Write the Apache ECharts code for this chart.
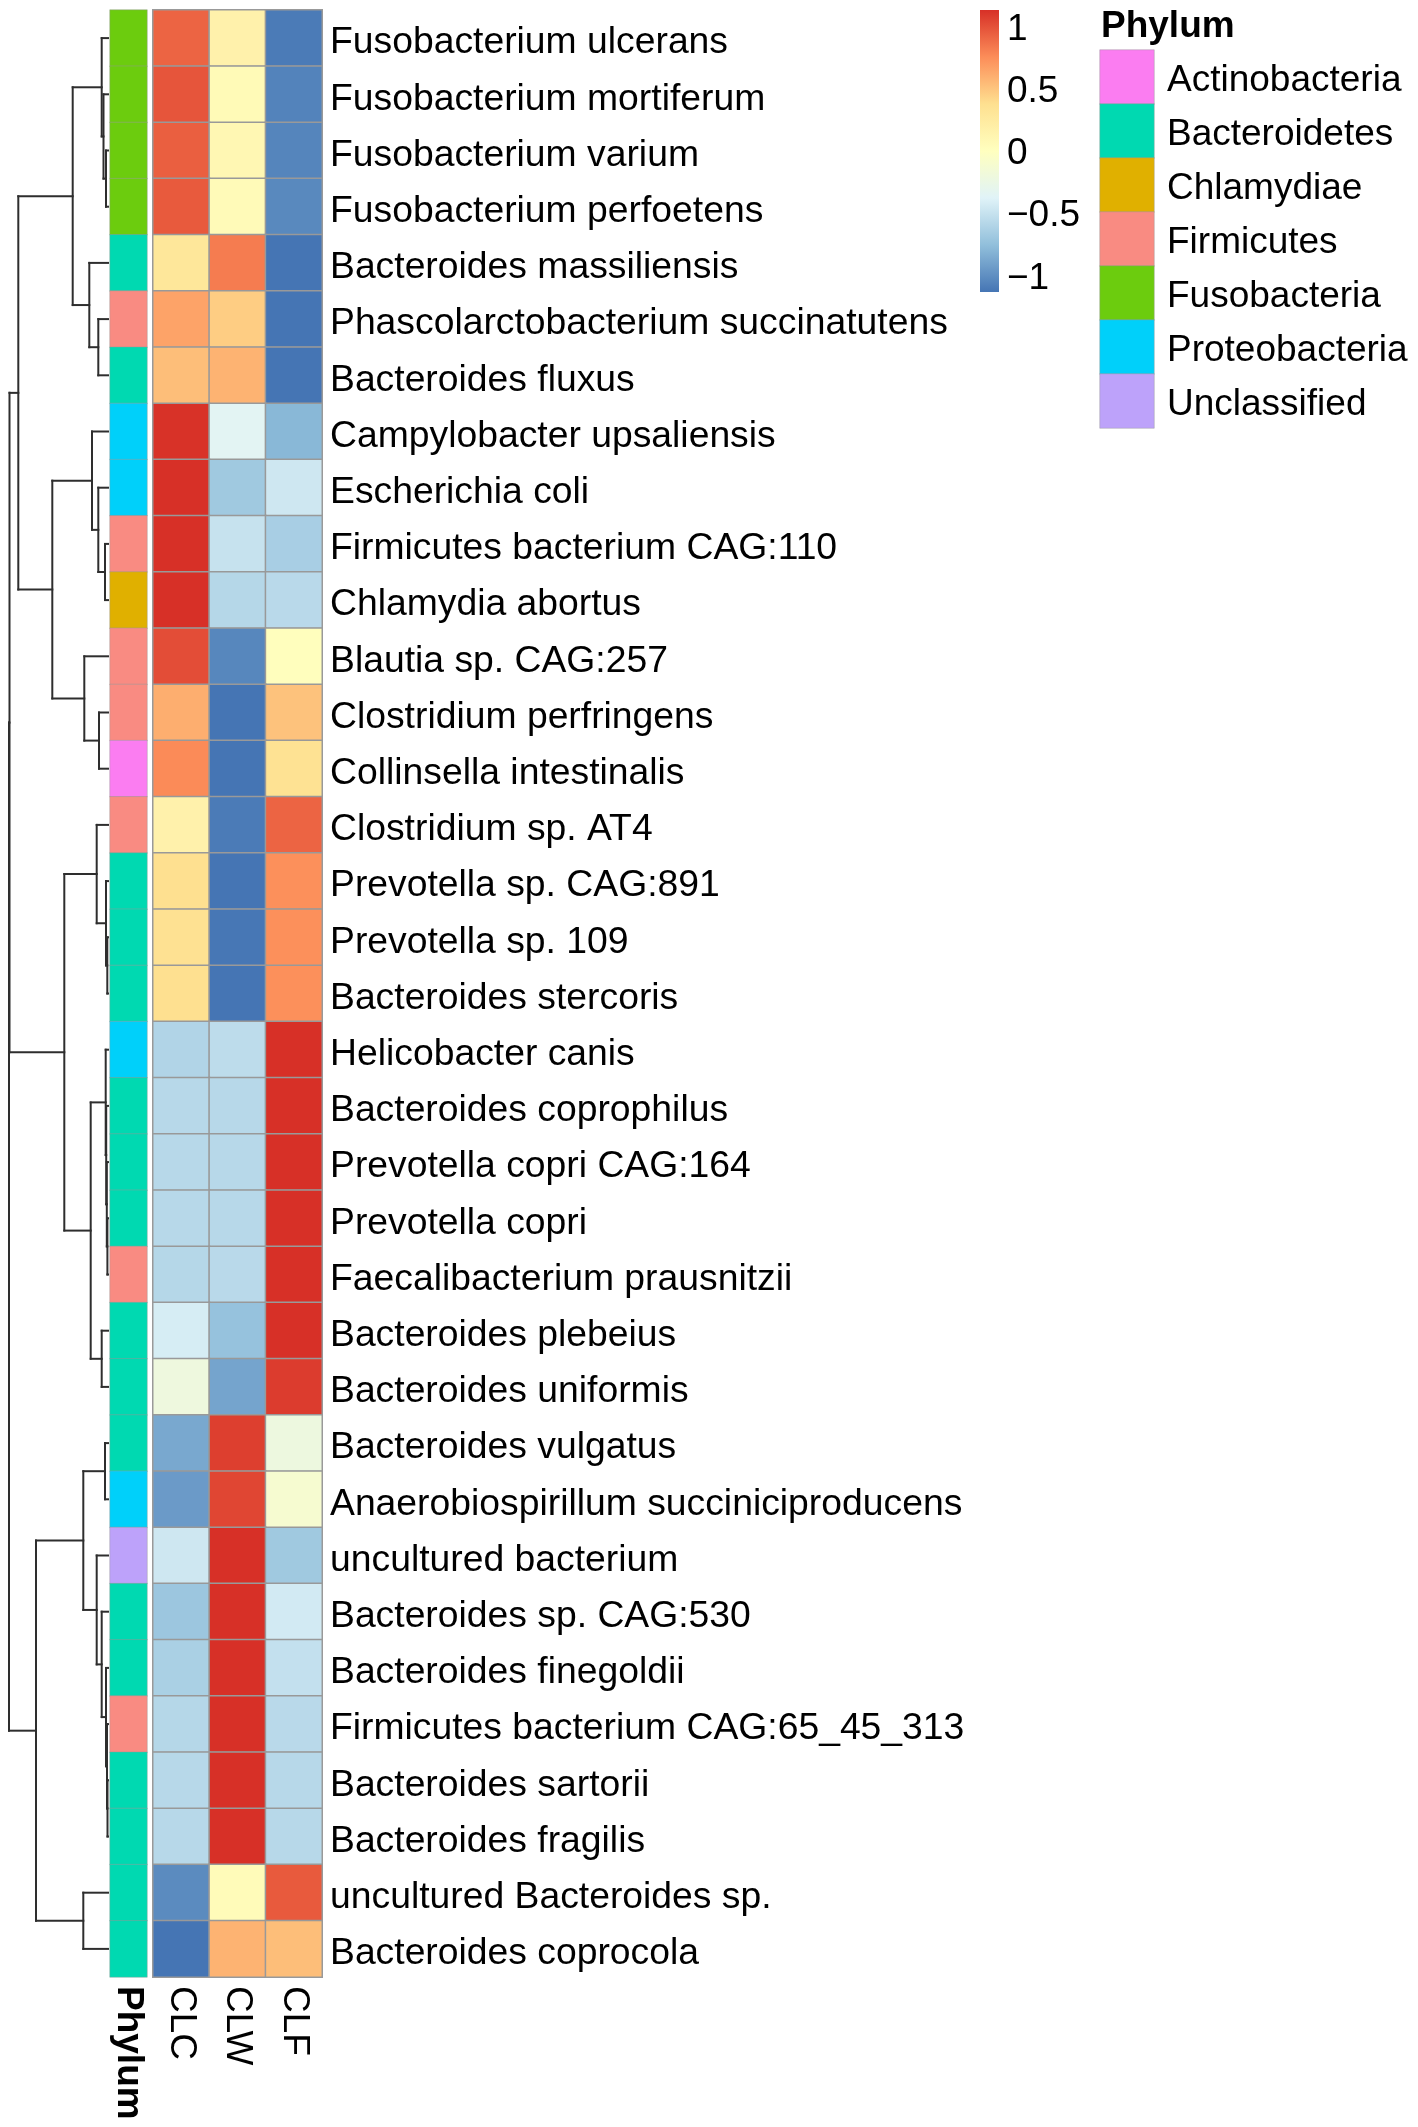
<!DOCTYPE html>
<html>
<head>
<meta charset="utf-8">
<title>Phylum heatmap</title>
<script src="https://cdn.jsdelivr.net/npm/echarts@6/dist/echarts.min.js"></script>
<style>
html, body { margin: 0; padding: 0; background: #fff; }
#chart { width: 1418px; height: 2127px; }
</style>
</head>
<body>
<div id="chart"></div>
<script>
// rows, top to bottom, in dendrogram order
var species = [
    'Fusobacterium ulcerans', 'Fusobacterium mortiferum', 'Fusobacterium varium', 'Fusobacterium perfoetens',
    'Bacteroides massiliensis', 'Phascolarctobacterium succinatutens', 'Bacteroides fluxus',
    'Campylobacter upsaliensis', 'Escherichia coli', 'Firmicutes bacterium CAG:110', 'Chlamydia abortus',
    'Blautia sp. CAG:257', 'Clostridium perfringens', 'Collinsella intestinalis', 'Clostridium sp. AT4',
    'Prevotella sp. CAG:891', 'Prevotella sp. 109', 'Bacteroides stercoris', 'Helicobacter canis',
    'Bacteroides coprophilus', 'Prevotella copri CAG:164', 'Prevotella copri', 'Faecalibacterium prausnitzii',
    'Bacteroides plebeius', 'Bacteroides uniformis', 'Bacteroides vulgatus',
    'Anaerobiospirillum succiniciproducens', 'uncultured bacterium', 'Bacteroides sp. CAG:530',
    'Bacteroides finegoldii', 'Firmicutes bacterium CAG:65_45_313', 'Bacteroides sartorii',
    'Bacteroides fragilis', 'uncultured Bacteroides sp.', 'Bacteroides coprocola'
];
var samples = ['CLC', 'CLW', 'CLF'];

// row-scaled abundance (z-score) per sample
var clc = [0.93, 0.99, 0.95, 0.97, 0.30, 0.66, 0.54, 1.13, 1.14, 1.14, 1.14, 1.02, 0.61, 0.77, 0.17,
    0.38, 0.37, 0.38, -0.60, -0.57, -0.57, -0.57, -0.58, -0.42, -0.20, -0.87, -0.94, -0.46, -0.70,
    -0.63, -0.58, -0.57, -0.57, -1.02, -1.13];
var clw = [0.17, 0.07, 0.10, 0.06, 0.83, 0.47, 0.59, -0.34, -0.68, -0.50, -0.58, -1.04, -1.13, -1.13, -1.10,
    -1.13, -1.12, -1.13, -0.54, -0.57, -0.57, -0.57, -0.56, -0.73, -0.89, 1.08, 1.05, 1.14, 1.14,
    1.14, 1.14, 1.14, 1.14, 0.05, 0.59];
var clf = [-1.10, -1.06, -1.05, -1.03, -1.13, -1.13, -1.13, -0.79, -0.46, -0.64, -0.56, 0.02, 0.52, 0.36, 0.93,
    0.75, 0.75, 0.75, 1.14, 1.14, 1.14, 1.14, 1.14, 1.14, 1.09, -0.21, -0.11, -0.68, -0.44,
    -0.51, -0.56, -0.57, -0.57, 0.97, 0.54];

var phylumNames = ['Actinobacteria', 'Bacteroidetes', 'Chlamydiae', 'Firmicutes', 'Fusobacteria', 'Proteobacteria', 'Unclassified'];
var phylumColors = ['#FB7DF1', '#00D9B1', '#E0B000', '#F98B82', '#6CCC0E', '#00D0FA', '#BDA2FA'];
var rowPhylum = [
    'Fusobacteria', 'Fusobacteria', 'Fusobacteria', 'Fusobacteria', 'Bacteroidetes', 'Firmicutes', 'Bacteroidetes',
    'Proteobacteria', 'Proteobacteria', 'Firmicutes', 'Chlamydiae', 'Firmicutes', 'Firmicutes', 'Actinobacteria',
    'Firmicutes', 'Bacteroidetes', 'Bacteroidetes', 'Bacteroidetes', 'Proteobacteria', 'Bacteroidetes',
    'Bacteroidetes', 'Bacteroidetes', 'Firmicutes', 'Bacteroidetes', 'Bacteroidetes', 'Bacteroidetes',
    'Proteobacteria', 'Unclassified', 'Bacteroidetes', 'Bacteroidetes', 'Firmicutes', 'Bacteroidetes',
    'Bacteroidetes', 'Bacteroidetes', 'Bacteroidetes'
];

var heatColors = ['#4575B4', '#91BFDB', '#E0F3F8', '#FFFFBF', '#FEE090', '#FC8D59', '#D73027'];
var zMin = -1.13, zMax = 1.14;
var colorbarTicks = [-1, -0.5, 0, 0.5, 1];

// row dendrogram, hclust style: [left, right, height]
// negative = row number (1-based), positive = earlier merge (1-based)
var merges = [
    [-3, -4, 2.0], [-2, 1, 4.5], [-1, 2, 6.3], [-6, -7, 9.7], [-5, 4, 18.7], [3, 5, 35.3],
    [-10, -11, 3.0], [-9, 7, 9.7], [-8, 8, 16.0], [-13, -14, 9.0], [-12, 10, 23.7], [9, 11, 55.7],
    [6, 12, 89.7],
    [-17, -18, 0.7], [-16, 14, 2.0], [-15, 15, 11.3], [-22, -23, 0.6], [-21, 17, 1.2], [-20, 18, 1.8],
    [-19, 19, 2.3], [-24, -25, 6.3], [20, 21, 17.3], [16, 22, 43.7],
    [-26, -27, 3.0], [-32, -33, 0.5], [-31, 25, 1.0], [-30, 26, 2.0], [-29, 27, 6.3], [-28, 28, 11.3],
    [24, 29, 24.7], [-34, -35, 24.7], [30, 31, 72.0],
    [13, 23, 98.5], [33, 32, 99.0]
];

var FONT = '"Liberation Sans", Arial, sans-serif';

// build heatmap cells
var heatData = [];
var cols = [clc, clw, clf];
for (var r = 0; r < species.length; r++) {
    for (var c = 0; c < samples.length; c++) {
        heatData.push([c, r, cols[c][r]]);
    }
}
var phylumData = rowPhylum.map(function (p, r) { return [0, r, phylumNames.indexOf(p)]; });
var legendData = phylumNames.map(function (p, i) { return [0, i, i]; });

// dendrogram segments from the merge table
var nodePos = [];
function childPos(id) {
    if (id < 0) return { y: -id - 1, h: 0 };
    return nodePos[id - 1];
}
var dendroSegs = [];
merges.forEach(function (m) {
    var a = childPos(m[0]), b = childPos(m[1]), h = m[2];
    dendroSegs.push([h, a.y, h, b.y]);
    dendroSegs.push([a.h, a.y, h, a.y]);
    dendroSegs.push([b.h, b.y, h, b.y]);
    nodePos.push({ y: (a.y + b.y) / 2, h: h });
});

var hidden = { show: false };
var chart = echarts.init(document.getElementById('chart'), null, { renderer: 'canvas' });

// labels a few px lower than the tick: top-aligned with a short line box
function lowered(px) {
    return { verticalAlign: 'top', lineHeight: px * 2 };
}

var option = {
    backgroundColor: '#fff',
    animation: false,
    textStyle: { fontFamily: FONT },
    title: {
        text: 'Phylum', left: 1101, top: 8, padding: 0,
        textStyle: { fontSize: 37, fontWeight: 'bold', color: '#000', fontFamily: FONT }
    },
    grid: [
        { left: 8, top: 10, width: 100, height: 1967 },     // dendrogram
        { left: 110, top: 10, width: 37, height: 1967 },    // phylum annotation
        { left: 153, top: 10, width: 169, height: 1967 },   // heatmap
        { left: 980, top: 10, width: 19, height: 282 },     // colour bar
        { left: 1100, top: 50, width: 54, height: 378 }     // phylum legend
    ],
    xAxis: [
        { gridIndex: 0, type: 'value', min: 0, max: 100, inverse: true, show: false },
        { gridIndex: 1, type: 'category', data: ['Phylum'], position: 'bottom',
          axisLine: hidden, axisTick: hidden, splitLine: hidden,
          axisLabel: { rotate: -90, margin: 9, fontSize: 37, fontWeight: 'bold', color: '#000', fontFamily: FONT } },
        { gridIndex: 2, type: 'category', data: samples, position: 'bottom',
          axisLine: hidden, axisTick: hidden, splitLine: hidden,
          axisLabel: { rotate: -90, margin: 9, fontSize: 37, color: '#000', fontFamily: FONT, interval: 0 } },
        { gridIndex: 3, type: 'value', min: 0, max: 1, show: false },
        { gridIndex: 4, type: 'category', data: [''], show: false }
    ],
    yAxis: [
        { gridIndex: 0, type: 'value', min: -0.5, max: species.length - 0.5, inverse: true, show: false },
        { gridIndex: 1, type: 'category', data: species, inverse: true, show: false },
        { gridIndex: 2, type: 'category', data: species, inverse: true, position: 'right',
          axisLine: hidden, axisTick: hidden, splitLine: hidden,
          axisLabel: Object.assign({ margin: 8, fontSize: 37.3, color: '#000', fontFamily: FONT, interval: 0 },
                                   lowered(5)) },
        { gridIndex: 3, type: 'value', min: zMin, max: zMax, position: 'right',
          axisLine: hidden, axisTick: hidden, splitLine: hidden,
          axisLabel: Object.assign({
              margin: 8, fontSize: 37, color: '#000', fontFamily: FONT,
              customValues: colorbarTicks,
              formatter: function (v) { return v < 0 ? '\u2212' + Math.abs(v) : String(v); }
          }, lowered(2.5)) },
        { gridIndex: 4, type: 'category', data: phylumNames, inverse: true, position: 'right',
          axisLine: hidden, axisTick: hidden, splitLine: hidden,
          axisLabel: Object.assign({ margin: 13, fontSize: 37, color: '#000', fontFamily: FONT, interval: 0 },
                                   lowered(4)) }
    ],
    visualMap: [
        { type: 'continuous', min: zMin, max: zMax, seriesIndex: 2, dimension: 2,
          inRange: { color: heatColors }, show: false },
        { type: 'piecewise', seriesIndex: [1, 4], dimension: 2, show: false,
          pieces: phylumNames.map(function (p, i) { return { value: i, color: phylumColors[i] }; }) }
    ],
    graphic: [
        { type: 'rect', left: 980, top: 10, shape: { width: 19, height: 282 },
          style: { fill: new echarts.graphic.LinearGradient(0, 1, 0, 0,
              heatColors.map(function (c, i) { return { offset: i / (heatColors.length - 1), color: c }; })) } }
    ],
    series: [
        { type: 'custom', xAxisIndex: 0, yAxisIndex: 0, data: dendroSegs,
          encode: { x: [0, 2], y: [1, 3] },
          renderItem: function (params, api) {
              var p1 = api.coord([api.value(0), api.value(1)]);
              var p2 = api.coord([api.value(2), api.value(3)]);
              return { type: 'line', shape: { x1: p1[0], y1: p1[1], x2: p2[0], y2: p2[1] },
                       style: { stroke: '#2e2e2e', lineWidth: 2, lineCap: 'square' } };
          } },
        { type: 'heatmap', xAxisIndex: 1, yAxisIndex: 1, data: phylumData,
          itemStyle: { borderColor: 'rgba(150,150,150,0.45)', borderWidth: 1 } },
        { type: 'heatmap', xAxisIndex: 2, yAxisIndex: 2, data: heatData,
          itemStyle: { borderColor: '#999', borderWidth: 1.5 } },
        { type: 'line', xAxisIndex: 3, yAxisIndex: 3, data: [], silent: true },
        { type: 'heatmap', xAxisIndex: 4, yAxisIndex: 4, data: legendData,
          itemStyle: { borderColor: 'rgba(150,150,150,0.45)', borderWidth: 1 } }
    ]
};
chart.setOption(option);
</script>
</body>
</html>
